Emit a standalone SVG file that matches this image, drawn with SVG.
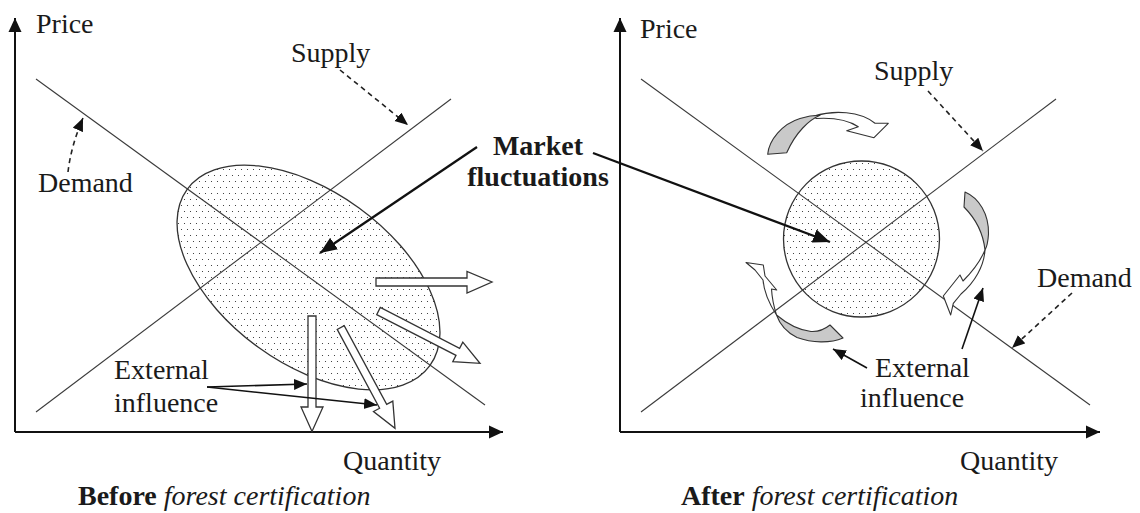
<svg xmlns="http://www.w3.org/2000/svg" width="1140" height="513" viewBox="0 0 1140 513">
<defs>
<style>
.t{font-family:"Liberation Serif","Times New Roman",serif;font-size:28px;fill:#1a1a1a}
.b{font-weight:bold}
.it{font-style:italic}
.axis{stroke:#111;stroke-width:2;fill:none}
.curve{stroke:#3a3a3a;stroke-width:1.1;fill:none}
.zone{stroke:#333;stroke-width:1.3}
.hollow{fill:#fff;stroke:#333;stroke-width:1.3;stroke-linejoin:miter}
.dash{stroke:#222;stroke-width:1.6;stroke-dasharray:5 4;fill:none}
.ptr{stroke:#111;stroke-width:1.6;fill:none}
.mkt{stroke:#111;stroke-width:2.3;fill:none}
.rib{fill:#fff;stroke:#333;stroke-width:1.1;stroke-linejoin:round}
.ribg{fill:#c9c9c9;stroke:#333;stroke-width:1.1;stroke-linejoin:round}
</style>
<pattern id="dots" width="6" height="12" patternUnits="userSpaceOnUse">
<rect width="6" height="12" fill="#fff"/>
<circle cx="1.5" cy="1.5" r="0.55" fill="#222"/>
<circle cx="4.5" cy="7.5" r="0.55" fill="#222"/>
</pattern>
<pattern id="dotsr" href="#dots" patternTransform="rotate(-36 308.5 277.5)"/>
<marker id="axh" markerUnits="userSpaceOnUse" markerWidth="15" markerHeight="14" refX="14" refY="7" orient="auto"><path d="M0,0.5 L14,7 L0,13.5 z" fill="#111"/></marker>
<marker id="sh" markerUnits="userSpaceOnUse" markerWidth="14" markerHeight="12" refX="13" refY="5.5" orient="auto"><path d="M0,0 L13,5.5 L0,11 z" fill="#111"/></marker>
<marker id="bh" markerUnits="userSpaceOnUse" markerWidth="18" markerHeight="15" refX="17" refY="7" orient="auto"><path d="M0,0 L17,7 L0,14 z" fill="#111"/></marker>
</defs>
<rect width="1140" height="513" fill="#fff"/>

<!-- LEFT PANEL: Before -->
<g id="left-zone"><ellipse class="zone" fill="url(#dotsr)" cx="308.5" cy="277.5" rx="150" ry="86" transform="rotate(36 308.5 277.5)"/></g>
<g id="left-axes">
<path class="axis" d="M15,432 L15,18" marker-end="url(#axh)"/>
<path class="axis" d="M15,432 L503,432" marker-end="url(#axh)"/>
</g>
<g id="left-demand"><path class="curve" d="M36,79 L485,405"/></g>
<g id="left-supply"><path class="curve" d="M36,412 L451,99"/></g>
<g id="left-shifts">
<polygon class="hollow" points="376,278 467,278 467,271.5 492,282 467,293 467,286 376,286"/>
<polygon class="hollow" points="376.7,314.6 456,355.4 452.8,361.6 480,363.3 462.8,342.1 459.6,348.3 380.3,307.4"/>
<polygon class="hollow" points="308,316 316,316 316,407 323,407 312,431.5 301,407 308,407"/>
<polygon class="hollow" points="337.2,329.4 379.6,408.2 373.5,411.5 395,428.3 392.8,401.1 386.7,404.4 344.2,325.6"/>
</g>

<!-- RIGHT PANEL: After -->
<g id="right-zone"><circle class="zone" fill="url(#dots)" cx="861.5" cy="239" r="78"/></g>
<g id="right-axes">
<path class="axis" d="M620,432 L620,18" marker-end="url(#axh)"/>
<path class="axis" d="M620,432 L1100,432" marker-end="url(#axh)"/>
</g>
<g id="right-demand"><path class="curve" d="M641,79 L1090,405"/></g>
<g id="right-supply"><path class="curve" d="M641,412 L1056,99"/></g>
<g id="right-cycle-top">
<path class="rib" d="M814,116 C834,110 860,111 875,123.3 L888.3,123.3 L874,137.7 L846.7,130.7 L858.3,126.7 C848,120 832,117.5 816,118.5 Z"/>
<path class="ribg" d="M767.7,154.3 C769,140 782,124 800,118.5 C807,116.3 814,115.3 820,115.3 C809,120 796,132 786.7,152.7 Z"/>
</g>
<g id="right-cycle-right">
<path class="rib" d="M985,250 C984,266 975,282 961,294 L953.3,303.3 L950.7,315 L943.3,296 L960,275 L963,281 C972,272 980,262 985,250 Z"/>
<path class="ribg" d="M965,192 C979,198 989,214 988.5,234 C988,242 986.8,247 985,250 C983.5,236 977,220 964,207 Z"/>
</g>
<g id="right-cycle-left">
<path class="rib" d="M776.5,315 C770,305 764,292 763,280 L755,270 L746,262.5 L763.3,265 L765,276 L776.7,290 L771.5,289 C772,298 774,307 776.5,315 Z"/>
<path class="ribg" d="M830,325 L843,338 C830,343.5 812,343 797,337.5 C788,333 780,325 776.5,315 C786,323 798,330 811,331.5 C819,332 825,329 830,325 Z"/>
</g>

<!-- connectors -->
<g id="connectors">
<path class="mkt" d="M477,147 L320,253" marker-end="url(#bh)"/>
<path class="mkt" d="M593,153 L830,242" marker-end="url(#bh)"/>
<path class="dash" d="M340,70 L408,125" marker-end="url(#sh)"/>
<path class="dash" d="M68,172 Q71,146 83,118" marker-end="url(#sh)"/>
<path class="dash" d="M928,91 L983,151" marker-end="url(#sh)"/>
<path class="dash" d="M1072,293 L1012,348" marker-end="url(#sh)"/>
<path class="ptr" d="M207,387 L307,384" marker-end="url(#sh)"/>
<path class="ptr" d="M207,387 L377,405" marker-end="url(#sh)"/>
<path class="ptr" d="M962,349 L983,288" marker-end="url(#sh)"/>
<path class="ptr" d="M867,368 L833,349" marker-end="url(#sh)"/>
</g>

<!-- labels -->
<g id="label-left-price"><text class="t" x="36" y="33">Price</text></g>
<g id="label-left-supply"><text class="t" x="291" y="62">Supply</text></g>
<g id="label-left-demand"><text class="t" x="38" y="192">Demand</text></g>
<g id="label-market"><text class="t b" x="538" y="155" text-anchor="middle">Market</text><text class="t b" x="538" y="186" text-anchor="middle">fluctuations</text></g>
<g id="label-left-external"><text class="t" x="114" y="379">External</text><text class="t" x="114" y="412">influence</text></g>
<g id="label-left-quantity"><text class="t" x="343" y="470">Quantity</text></g>
<g id="caption-before"><text class="t" x="78" y="505"><tspan class="b">Before</tspan> <tspan class="it">forest certification</tspan></text></g>
<g id="label-right-price"><text class="t" x="640" y="38">Price</text></g>
<g id="label-right-supply"><text class="t" x="874" y="80">Supply</text></g>
<g id="label-right-demand"><text class="t" x="1037" y="287">Demand</text></g>
<g id="label-right-external"><text class="t" x="875" y="377">External</text><text class="t" x="860" y="407">influence</text></g>
<g id="label-right-quantity"><text class="t" x="960" y="470">Quantity</text></g>
<g id="caption-after"><text class="t" x="681" y="505"><tspan class="b">After</tspan> <tspan class="it">forest certification</tspan></text></g>
</svg>
